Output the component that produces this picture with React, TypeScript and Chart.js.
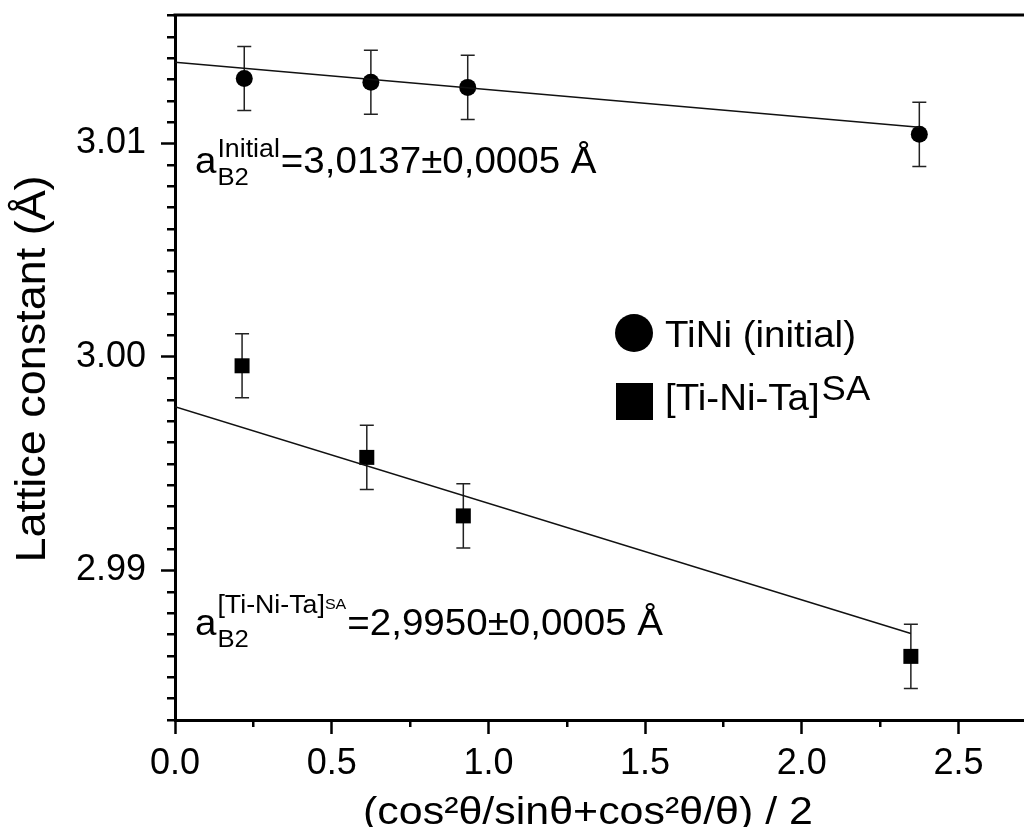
import React, { useEffect, useRef } from "react";
import { Chart, registerables } from "chart.js";

Chart.register(...registerables);

// ---- data ----
const tiniX = [0.221, 0.625, 0.934, 2.375];
const tiniY = [3.01304, 3.01286, 3.01262, 3.01042];
const tiniErr = [0.0015, 0.0015, 0.0015, 0.0015];

const tantaX = [0.214, 0.612, 0.92, 2.348];
const tantaY = [2.99958, 2.99529, 2.99255, 2.98597];
const tantaErr = [0.0015, 0.0015, 0.0015, 0.0015];

const fitTiniX = [0, 2.375];
const fitTiniY = [3.0138, 3.01075];
const fitTantaX = [0, 2.348];
const fitTantaY = [2.99766, 2.98704];

const xTicks = [0, 0.5, 1.0, 1.5, 2.0, 2.5];
const xMinorTicks = [0.25, 0.75, 1.25, 1.75, 2.25];
const yTicks = [2.99, 3.0, 3.01];
const xRange = [0, 2.709];
const yRange = [2.98299, 3.01601];

const legendLabels = ["TiNi (initial)", "[Ti-Ni-Ta]", "SA"];
const xTitle = "(cos\u00B2\u03B8/sin\u03B8+cos\u00B2\u03B8/\u03B8) / 2";
const yTitle = "Lattice constant (\u00C5)";

const FONT = "'Liberation Sans', Arial, sans-serif";

const pts = (xs: number[], ys: number[]) => xs.map((v, i) => ({ x: v, y: ys[i] }));

type Run = { text: string; size: number; dy?: number };

function stretchText(ctx: CanvasRenderingContext2D, text: string, x: number, y: number, sx: number) {
  ctx.save();
  ctx.translate(x, y);
  ctx.scale(sx, 1);
  ctx.fillText(text, 0, 0);
  ctx.restore();
  return ctx.measureText(text).width * sx;
}

function drawRich(ctx: CanvasRenderingContext2D, x: number, y: number, base: string, sup: Run[], sub: string, rest: string, sx: number) {
  ctx.textAlign = "left";
  ctx.textBaseline = "alphabetic";
  ctx.font = `36px ${FONT}`;
  const cx = x + stretchText(ctx, base, x, y, sx) + 1;
  let supEnd = cx;
  for (const r of sup) {
    ctx.font = `${r.size}px ${FONT}`;
    supEnd += stretchText(ctx, r.text, supEnd, y + (r.dy || 0), sx);
  }
  ctx.font = `24px ${FONT}`;
  const subEnd = cx + stretchText(ctx, sub, cx, y + 12, sx);
  const nx = Math.max(supEnd, subEnd) + 1;
  ctx.font = `36px ${FONT}`;
  stretchText(ctx, rest, nx, y, sx);
}

const customPlugin = {
  id: "customDraw",
  beforeDatasetsDraw(chart: any) {
    const { ctx, scales } = chart;
    const x = scales.x;
    const y = scales.y;
    ctx.save();
    ctx.strokeStyle = "#222";
    ctx.lineWidth = 1.5;
    const bars = (xs: number[], ys: number[], es: number[]) => {
      xs.forEach((xv, i) => {
        const px = x.getPixelForValue(xv);
        const top = y.getPixelForValue(ys[i] + es[i]);
        const bot = y.getPixelForValue(ys[i] - es[i]);
        ctx.beginPath();
        ctx.moveTo(px, top);
        ctx.lineTo(px, bot);
        ctx.moveTo(px - 7, top);
        ctx.lineTo(px + 7, top);
        ctx.moveTo(px - 7, bot);
        ctx.lineTo(px + 7, bot);
        ctx.stroke();
      });
    };
    bars(tiniX, tiniY, tiniErr);
    bars(tantaX, tantaY, tantaErr);
    ctx.restore();
  },
  afterDraw(chart: any) {
    const { ctx, chartArea, scales } = chart;
    const x = scales.x;
    const y = scales.y;
    ctx.save();
    ctx.fillStyle = "#000";
    ctx.strokeStyle = "#000";

    // top frame line
    ctx.lineWidth = 3;
    ctx.beginPath();
    ctx.moveTo(chartArea.left - 1.5, chartArea.top);
    ctx.lineTo(chartArea.right, chartArea.top);
    ctx.stroke();

    // minor ticks
    ctx.lineWidth = 2.5;
    ctx.beginPath();
    const kStart = Math.ceil(yRange[0] * 1000);
    const kEnd = Math.floor(yRange[1] * 1000);
    for (let k = kStart; k <= kEnd; k++) {
      if (k % 10 === 0) continue;
      const py = Math.round(y.getPixelForValue(k / 1000)) + 0.25;
      ctx.moveTo(chartArea.left - 8, py);
      ctx.lineTo(chartArea.left, py);
    }
    xMinorTicks.forEach((v) => {
      const px = Math.round(x.getPixelForValue(v)) + 0.25;
      ctx.moveTo(px, chartArea.bottom);
      ctx.lineTo(px, chartArea.bottom + 7);
    });
    ctx.stroke();

    // axis titles
    ctx.textAlign = "center";
    ctx.textBaseline = "alphabetic";
    ctx.font = `42px ${FONT}`;
    ctx.save();
    ctx.translate(45, 369);
    ctx.rotate(-Math.PI / 2);
    ctx.scale(1.07, 1);
    ctx.fillText(yTitle, 0, 0);
    ctx.restore();

    ctx.font = `38px ${FONT}`;
    ctx.save();
    ctx.translate(588, 824);
    ctx.scale(1.13, 1);
    ctx.fillText(xTitle, 0, 0);
    ctx.restore();

    // annotations
    drawRich(ctx, 195, 173, "a", [{ text: "Initial", size: 25, dy: -16 }], "B2", "=3,0137\u00B10,0005 \u00C5", 1.07);
    drawRich(
      ctx,
      195,
      635,
      "a",
      [
        { text: "[Ti-Ni-Ta]", size: 25, dy: -22 },
        { text: "SA", size: 15, dy: -26 },
      ],
      "B2",
      "=2,9950\u00B10,0005 \u00C5",
      1.07
    );

    // legend
    ctx.beginPath();
    ctx.arc(634, 333, 19, 0, Math.PI * 2);
    ctx.fill();
    ctx.fillRect(616, 383, 37, 37);
    ctx.textAlign = "left";
    ctx.font = `37px ${FONT}`;
    stretchText(ctx, legendLabels[0], 665, 347, 1.04);
    const w = stretchText(ctx, legendLabels[1], 665, 410, 1.04);
    ctx.font = `35px ${FONT}`;
    stretchText(ctx, legendLabels[2], 665 + w + 2, 400, 1.04);

    ctx.restore();
  },
};

const zeroPad = (s: any) => {
  s.paddingTop = 0;
  s.paddingBottom = 0;
  s.paddingLeft = 0;
  s.paddingRight = 0;
};

export default function App() {
  const ref = useRef<HTMLCanvasElement | null>(null);

  useEffect(() => {
    if (!ref.current) return;
    const chart = new Chart(ref.current, {
      type: "scatter",
      data: {
        datasets: [
          {
            label: "fit TiNi",
            data: pts(fitTiniX, fitTiniY),
            showLine: true,
            borderColor: "#111",
            borderWidth: 1.5,
            pointRadius: 0,
          },
          {
            label: "fit Ti-Ni-Ta",
            data: pts(fitTantaX, fitTantaY),
            showLine: true,
            borderColor: "#111",
            borderWidth: 1.5,
            pointRadius: 0,
          },
          {
            label: legendLabels[0],
            data: pts(tiniX, tiniY),
            pointStyle: "circle",
            pointRadius: 8.5,
            backgroundColor: "#000",
            borderColor: "#000",
            borderWidth: 0,
          },
          {
            label: legendLabels[1] + legendLabels[2],
            data: pts(tantaX, tantaY),
            pointStyle: "rect",
            pointRadius: 10.6,
            backgroundColor: "#000",
            borderColor: "#000",
            borderWidth: 0,
          },
        ],
      },
      options: {
        responsive: false,
        animation: false,
        devicePixelRatio: 1,
        layout: { autoPadding: false, padding: { top: 15, right: 0, left: 0, bottom: 0 } },
        plugins: {
          legend: { display: false },
          tooltip: { enabled: false },
        },
        scales: {
          x: {
            type: "linear",
            min: xRange[0],
            max: xRange[1],
            afterFit: (s: any) => {
              s.height = 107;
              zeroPad(s);
            },
            afterBuildTicks: (s: any) => {
              s.ticks = xTicks.map((v) => ({ value: v }));
            },
            grid: {
              display: true,
              drawOnChartArea: false,
              drawTicks: true,
              tickLength: 14,
              tickWidth: 2.5,
              tickColor: "#000",
            },
            border: { display: true, width: 3, color: "#000" },
            ticks: {
              color: "#000",
              font: { family: FONT, size: 36 },
              padding: 8,
              maxRotation: 0,
              autoSkip: false,
              callback: (v: any) => Number(v).toFixed(1),
            },
          },
          y: {
            type: "linear",
            min: yRange[0],
            max: yRange[1],
            afterFit: (s: any) => {
              s.width = 175;
              zeroPad(s);
            },
            afterBuildTicks: (s: any) => {
              s.ticks = yTicks.map((v) => ({ value: v }));
            },
            grid: {
              display: true,
              drawOnChartArea: false,
              drawTicks: true,
              tickLength: 14,
              tickWidth: 2.5,
              tickColor: "#000",
            },
            border: { display: true, width: 3, color: "#000" },
            ticks: {
              color: "#000",
              font: { family: FONT, size: 36 },
              padding: 15,
              callback: (v: any) => Number(v).toFixed(2),
            },
          },
        },
      },
      plugins: [customPlugin],
    });
    return () => chart.destroy();
  }, []);

  return (
    <div style={{ position: "fixed", left: 0, top: 0, width: 1024, height: 827, background: "#fff" }}>
      <canvas ref={ref} width={1024} height={827} style={{ display: "block", width: 1024, height: 827 }} />
    </div>
  );
}
